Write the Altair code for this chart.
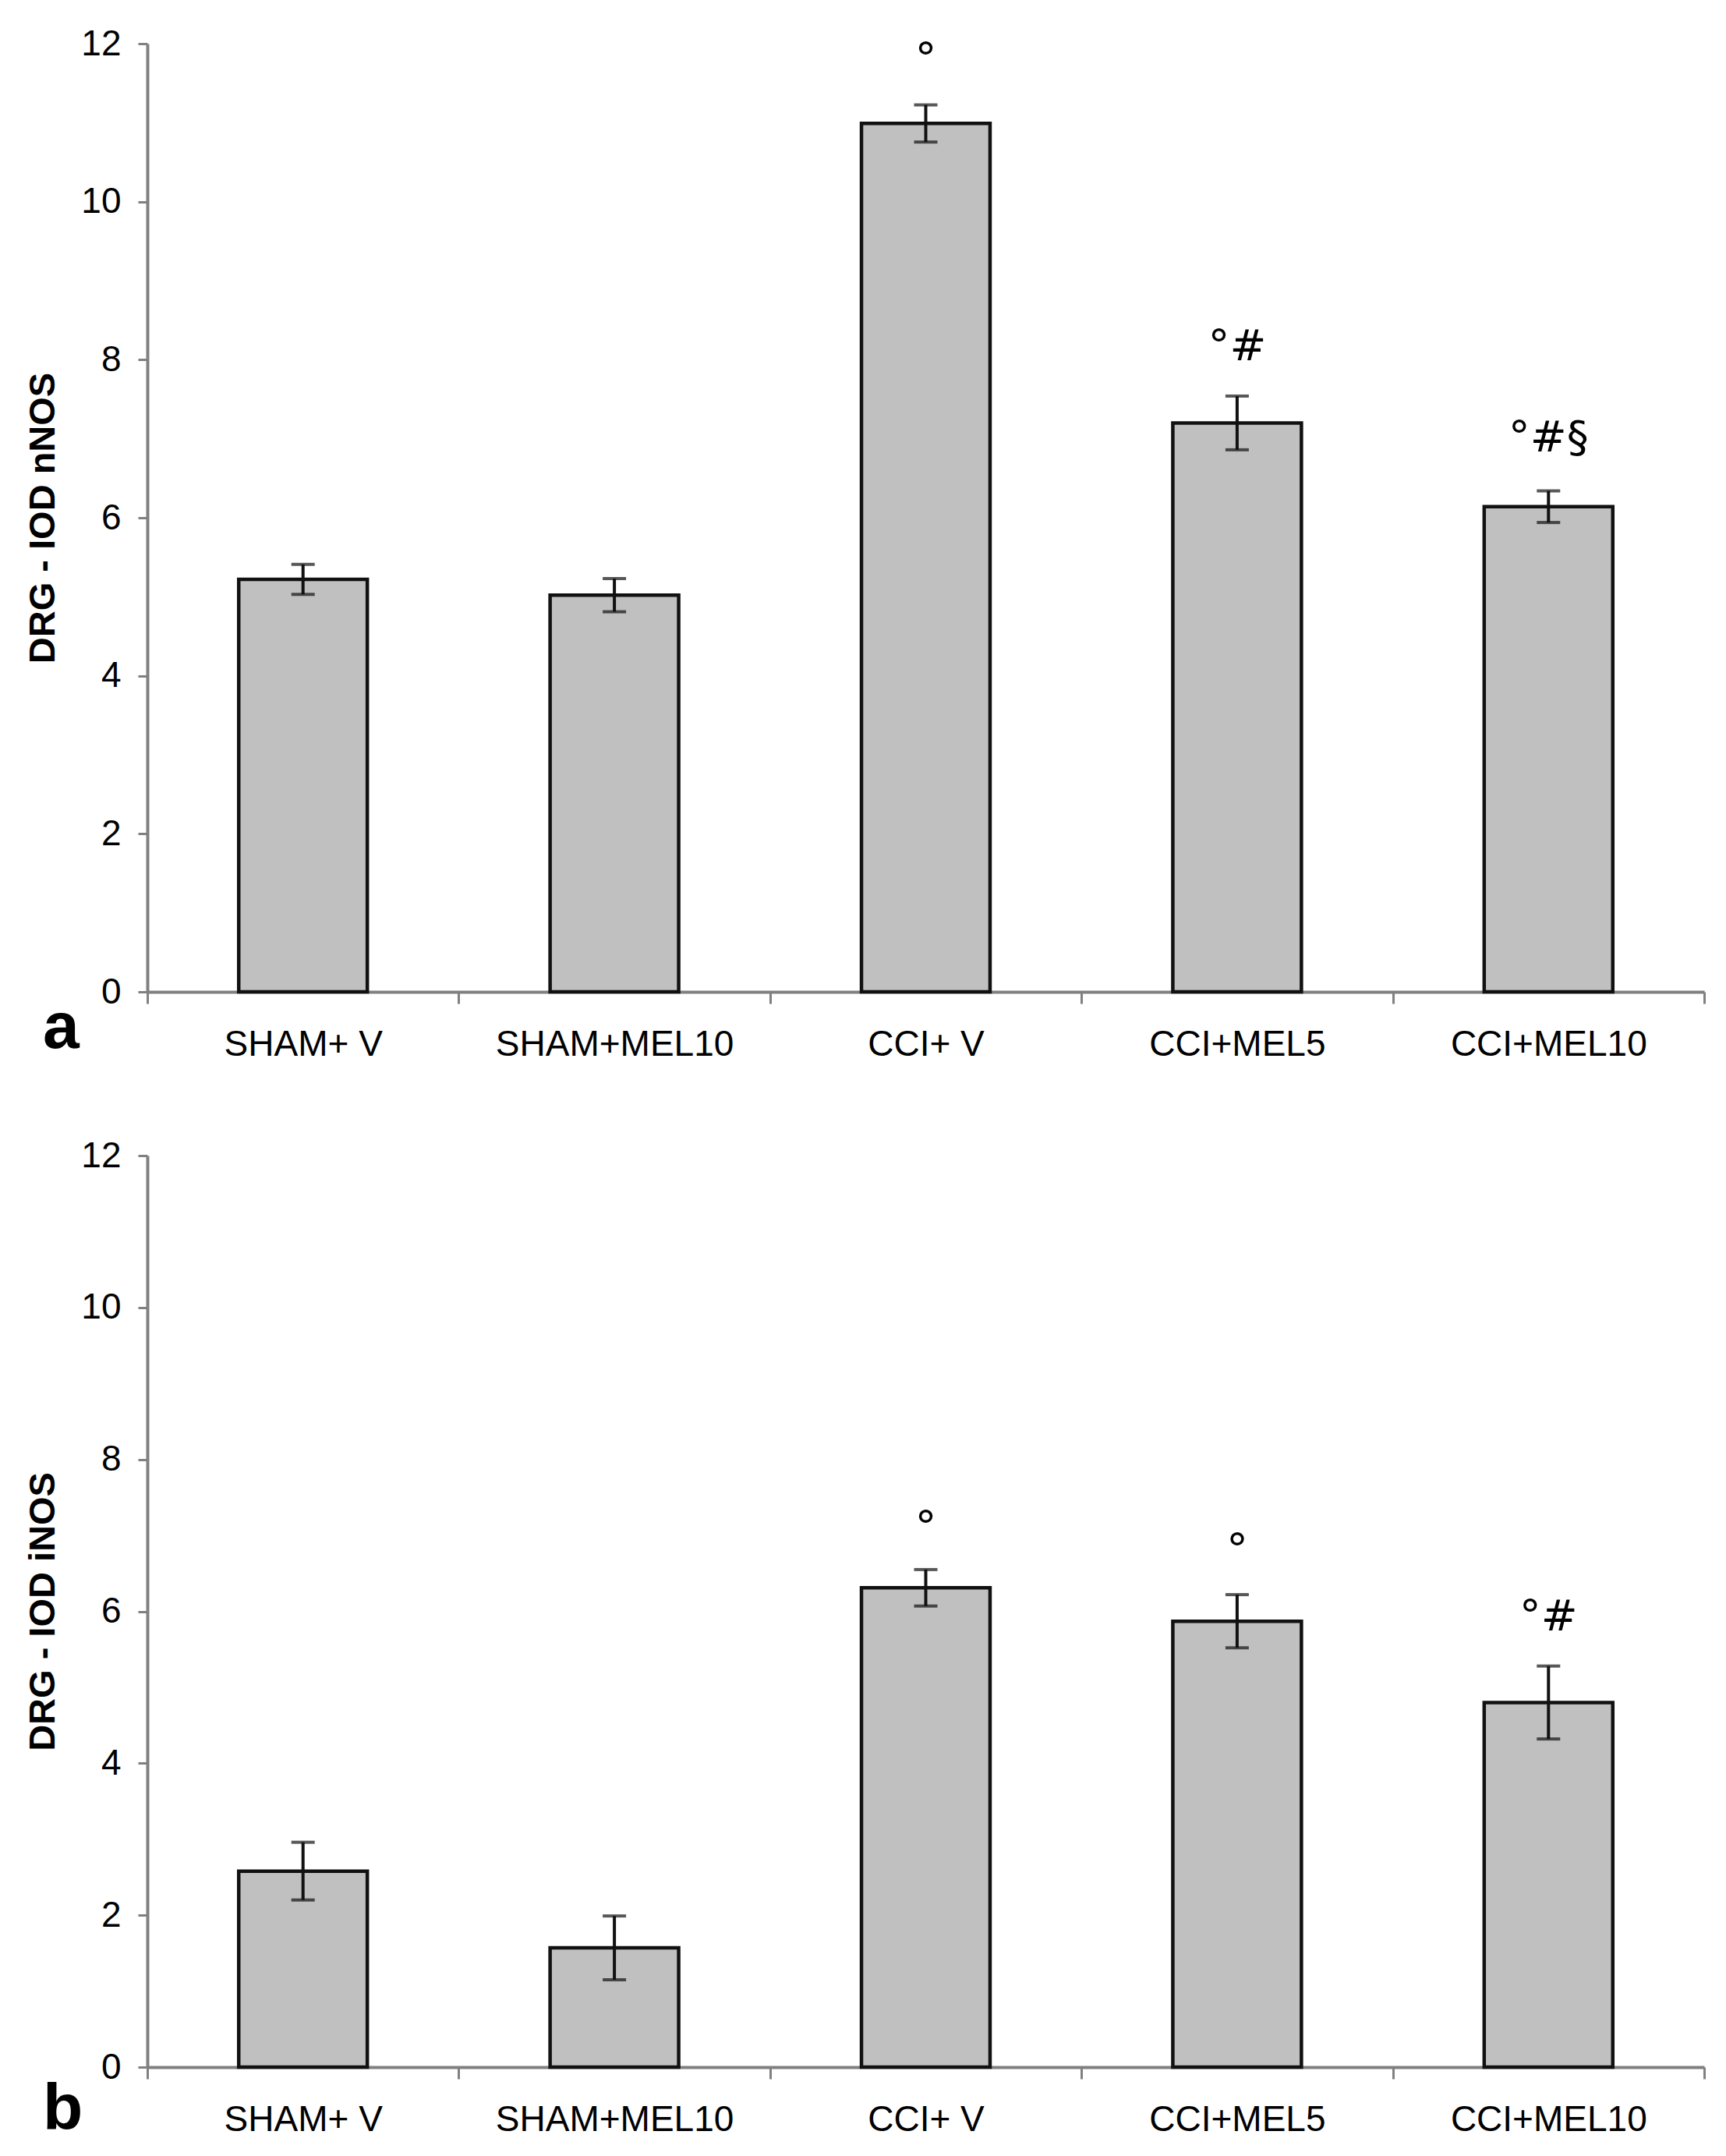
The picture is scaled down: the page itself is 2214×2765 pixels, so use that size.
import altair as alt
import pandas as pd

groups = ["SHAM+ V", "SHAM+MEL10", "CCI+ V", "CCI+MEL5", "CCI+MEL10"]

nnos_mean = [5.22, 5.02, 10.99, 7.20, 6.14]
nnos_sem = [0.19, 0.21, 0.235, 0.34, 0.20]
nnos_marks = ["", "", "°", "°#", "°#§"]
nnos_mark_y = [0, 0, 11.79, 8.16, 7.01]

inos_mean = [2.58, 1.57, 6.31, 5.87, 4.80]
inos_sem = [0.38, 0.42, 0.24, 0.35, 0.48]
inos_marks = ["", "", "°", "°", "°#"]
inos_mark_y = [0, 0, 7.09, 6.80, 5.92]

y_ticks = [0, 2, 4, 6, 8, 10, 12]

FONT = "Liberation Sans"
AXIS_GRAY = "#808080"
PLOT_W = 1997


def panel(mean, sem, marks, mark_y, ytitle, letter, height, letter_dy):
    df = pd.DataFrame({
        "group": groups,
        "mean": mean,
        "lo": [m - s for m, s in zip(mean, sem)],
        "hi": [m + s for m, s in zip(mean, sem)],
        "mark": marks,
        "mark_y": mark_y,
    })
    base = alt.Chart(df)
    x_axis = alt.Axis(
        title=None, labelAngle=0, labelFontSize=46, labelFont=FONT,
        labelColor="black", labelPadding=30, labelLimit=0,
        tickBand="extent", tickSize=15, tickColor=AXIS_GRAY, tickWidth=3,
        domainColor=AXIS_GRAY, domainWidth=4,
    )
    y_axis = alt.Axis(
        values=y_ticks, format="d", title=ytitle, titleFontSize=47,
        titleFont=FONT, titleFontWeight="bold", titleColor="black",
        titlePadding=24, labelFontSize=46, labelFont=FONT, labelColor="black",
        labelPadding=22, tickSize=12, tickColor=AXIS_GRAY, tickWidth=3,
        domainColor=AXIS_GRAY, domainWidth=4, grid=False,
    )
    y_scale = alt.Scale(domain=[0, 12], nice=False, zero=True)
    x = alt.X("group:N", sort=groups,
              scale=alt.Scale(paddingInner=0, paddingOuter=0), axis=x_axis)

    bars = base.mark_bar(
        width=alt.RelativeBandSize(0.413), fill="#c0c0c0",
        stroke="#111111", strokeWidth=4.5,
    ).encode(x=x, y=alt.Y("mean:Q", scale=y_scale, axis=y_axis))

    err = base.mark_rule(color="#111111", strokeWidth=4).encode(
        x=x, y=alt.Y("lo:Q", scale=y_scale, axis=y_axis), y2="hi:Q")
    cap_lo = base.mark_tick(color="#111111", size=30, thickness=4).encode(
        x=x, y=alt.Y("lo:Q", scale=y_scale, axis=y_axis))
    cap_hi = base.mark_tick(color="#111111", size=30, thickness=4).encode(
        x=x, y=alt.Y("hi:Q", scale=y_scale, axis=y_axis))

    txt = base.transform_filter("datum.mark != ''").mark_text(
        font="DejaVu Sans", fontSize=56, color="black", align="center",
        baseline="middle",
    ).encode(x=x, y=alt.Y("mark_y:Q", scale=y_scale, axis=y_axis), text="mark:N")

    return alt.layer(bars, err, cap_lo, cap_hi, txt).properties(
        width=PLOT_W, height=height,
        title=alt.TitleParams(
            text=letter, orient="bottom", anchor="start", frame="group",
            font=FONT, fontSize=84, fontWeight="bold", color="black",
            dx=-134, dy=letter_dy, offset=0, baseline="top",
        ),
    )


panel_a = panel(nnos_mean, nnos_sem, nnos_marks, nnos_mark_y,
                "DRG - IOD nNOS", "a", 1216, -84)
panel_b = panel(inos_mean, inos_sem, inos_marks, inos_mark_y,
                "DRG - IOD iNOS", "b", 1169, -76)

chart = alt.vconcat(panel_a, panel_b, spacing=97).properties(
    padding={"left": 23, "top": 25, "right": 5, "bottom": 5},
    background="white",
).configure_view(stroke=None)

chart.save("out.html", embed_options={"renderer": "svg", "actions": False})
